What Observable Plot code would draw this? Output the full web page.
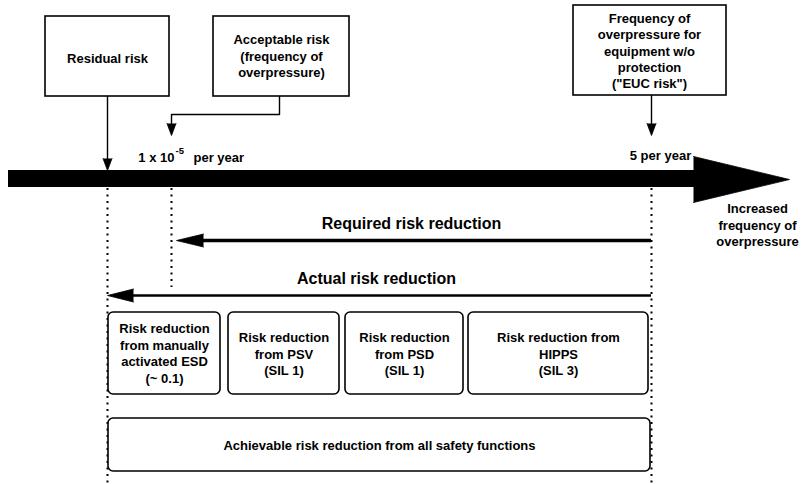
<!DOCTYPE html>
<html>
<head>
<meta charset="utf-8">
<script src="https://cdn.jsdelivr.net/npm/d3@7"></script>
<script src="https://cdn.jsdelivr.net/npm/@observablehq/plot@0.6"></script>
<style>
  html, body { margin: 0; padding: 0; background: #fff; }
  svg { display: block; }
</style>
</head>
<body>
<div id="chart"></div>
<script>
// ---- text content ----
const topLabels = ["Residual risk", "Acceptable risk\n(frequency of\noverpressure)", "Frequency of\noverpressure for\nequipment w/o\nprotection\n(\"EUC risk\")"];
const scaleLabels = ["1 x 10", "-5", "per year", "5 per year"];
const axisLabel = "Increased\nfrequency of\noverpressure";
const reductionTitles = ["Required risk reduction", "Actual risk reduction"];
const reductionLabels = ["Risk reduction\nfrom manually\nactivated ESD\n(~ 0.1)", "Risk reduction\nfrom PSV\n(SIL 1)", "Risk reduction\nfrom PSD\n(SIL 1)", "Risk reduction from\nHIPPS\n(SIL 3)"];
const totalLabel = "Achievable risk reduction from all safety functions";

// ---- diagram layout (diagram units = pixels) ----
const markerX = [107, 171, 651];          // residual, acceptable, EUC positions on the frequency axis
const topBoxX1 = [45, 213, 573];
const topBoxX2 = [169, 349, 726];
const topBoxY1 = [16, 16, 5];
const topBoxY2 = [96, 96, 95];
const topTextX = [107, 281, 649];
const topTextY = [57, 55, 50];
const redBoxX1 = [108, 228, 345, 468];
const redBoxX2 = [220, 339, 463, 648];
const redTextY = [352, 353, 353, 353];

const FONT = "Liberation Sans, Arial, Helvetica, sans-serif";

const topBoxes = topLabels.map((t, i) => ({label: t, x1: topBoxX1[i], x2: topBoxX2[i], y1: topBoxY1[i], y2: topBoxY2[i], tx: topTextX[i], ty: topTextY[i]}));
const redBoxes = reductionLabels.map((t, i) => ({label: t, x1: redBoxX1[i], x2: redBoxX2[i], y1: 312, y2: 394, tx: (redBoxX1[i] + redBoxX2[i]) / 2, ty: redTextY[i]}));
const totalBox = [{label: totalLabel, x1: 108, x2: 650, y1: 418, y2: 471, tx: 379, ty: 445}];

const shaft = [{x1: 8, x2: 695, y1: 170, y2: 187}];
const heads = [
  // main arrow head
  {z: "main", x: 693, y: 156}, {z: "main", x: 789, y: 179}, {z: "main", x: 693, y: 202},
  // residual down arrow
  {z: "r", x: 102.5, y: 158}, {z: "r", x: 107, y: 170}, {z: "r", x: 111.5, y: 158},
  // acceptable down arrow
  {z: "a", x: 166.5, y: 123}, {z: "a", x: 171, y: 135}, {z: "a", x: 175.5, y: 123},
  // EUC down arrow
  {z: "e", x: 646.5, y: 123}, {z: "e", x: 651, y: 135}, {z: "e", x: 655.5, y: 123},
  // required (left)
  {z: "req", x: 203, y: 233.5}, {z: "req", x: 176, y: 240}, {z: "req", x: 203, y: 246.5},
  // actual (left)
  {z: "act", x: 133, y: 288.5}, {z: "act", x: 107, y: 295}, {z: "act", x: 133, y: 301.5}
];
const connectors = [
  {z: "r", x: 107, y: 96}, {z: "r", x: 107, y: 160},
  {z: "a", x: 279, y: 96}, {z: "a", x: 279, y: 114}, {z: "a", x: 171, y: 114}, {z: "a", x: 171, y: 125},
  {z: "e", x: 651, y: 95}, {z: "e", x: 651, y: 125}
];
const dotted = [
  {x: markerX[0], y1: 188, y2: 484},
  {x: markerX[1], y1: 188, y2: 287},
  {x: markerX[2], y1: 188, y2: 484}
];
const bigArrows = [
  {x1: 200, x2: 651, y: 240, w: 3.6},
  {x1: 130, x2: 651, y: 295, w: 2.6}
];

const textStyle = {fontFamily: FONT, fontWeight: "bold", fill: "black", textAnchor: "middle", lineAnchor: "middle"};

const chart = Plot.plot({
  width: 804,
  height: 484,
  margin: 0,
  x: {domain: [0, 804], range: [0, 804], axis: null},
  y: {domain: [0, 484], range: [0, 484], axis: null},
  style: {background: "white", color: "black"},
  marks: [
    // dotted verticals
    Plot.ruleX(dotted, {x: "x", y1: "y1", y2: "y2", stroke: "black", strokeWidth: 2, strokeDasharray: "2,4.5"}),
    // main frequency axis
    Plot.rect(shaft, {x1: "x1", x2: "x2", y1: "y1", y2: "y2", fill: "black"}),
    // connectors
    Plot.line(connectors, {x: "x", y: "y", z: "z", stroke: "black", strokeWidth: 1.4, curve: "linear"}),
    // required & actual arrow shafts
    ...bigArrows.map(d => Plot.ruleY([d], {y: "y", x1: "x1", x2: "x2", stroke: "black", strokeWidth: d.w})),
    // arrow heads
    Plot.line(heads, {x: "x", y: "y", z: "z", fill: "black", stroke: "black", strokeWidth: 0.8, strokeLinejoin: "miter"}),
    // top boxes
    Plot.rect(topBoxes, {x1: "x1", x2: "x2", y1: "y1", y2: "y2", fill: "white", stroke: "black", strokeWidth: 1.6}),
    Plot.text(topBoxes, {x: "tx", y: "ty", text: "label", fontSize: 13, lineHeight: 1.25, ...textStyle}),
    // scale labels
    Plot.text([scaleLabels[0]], {x: 174, y: 157, text: d => d, fontSize: 13, ...textStyle, textAnchor: "end"}),
    Plot.text([scaleLabels[1]], {x: 175, y: 150, text: d => d, fontSize: 9.5, ...textStyle, textAnchor: "start"}),
    Plot.text([scaleLabels[2]], {x: 193, y: 157, text: d => d, fontSize: 13, ...textStyle, textAnchor: "start"}),
    Plot.text([scaleLabels[3]], {x: 660, y: 155, text: d => d, fontSize: 13, ...textStyle}),
    Plot.text([axisLabel], {x: 757, y: 224, text: d => d, fontSize: 13, lineHeight: 1.27, ...textStyle}),
    // reduction titles
    Plot.text([reductionTitles[0]], {x: 411, y: 223, text: d => d, fontSize: 16, ...textStyle}),
    Plot.text([reductionTitles[1]], {x: 376, y: 278, text: d => d, fontSize: 16, ...textStyle}),
    // reduction boxes
    Plot.rect(redBoxes, {x1: "x1", x2: "x2", y1: "y1", y2: "y2", fill: "white", stroke: "black", strokeWidth: 1.6, rx: 5, ry: 5}),
    Plot.text(redBoxes, {x: "tx", y: "ty", text: "label", fontSize: 13, lineHeight: 1.27, ...textStyle}),
    Plot.rect(totalBox, {x1: "x1", x2: "x2", y1: "y1", y2: "y2", fill: "white", stroke: "black", strokeWidth: 1.6, rx: 5, ry: 5}),
    Plot.text(totalBox, {x: "tx", y: "ty", text: "label", fontSize: 13, ...textStyle})
  ]
});
document.getElementById("chart").appendChild(chart);
</script>
</body>
</html>
